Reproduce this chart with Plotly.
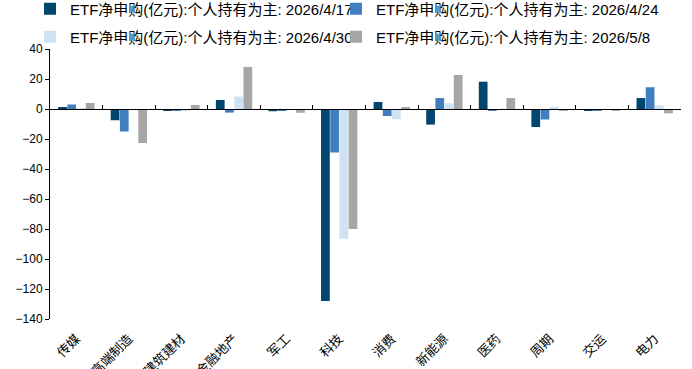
import plotly.graph_objects as go

categories = ["传媒", "高端制造", "建筑建材", "金融地产", "军工", "科技", "消费", "新能源", "医药", "周期", "交运", "电力"]
s_0417 = [1, -7.5, -1, 6, -1.5, -128, 4.7, -10.4, 18.2, -12, -1.2, 7.3]
s_0424 = [3, -15, -1.3, -2.4, -1, -29, -4.7, 7.3, -1.3, -7, -1, 14.5]
s_0430 = [0.5, -0.5, -1, 8.3, -0.5, -86.5, -6.9, 3.8, -0.5, 1.5, -0.5, 2.5]
s_0508 = [4, -22.7, 2.7, 28, -2.5, -80, 0.9, 22.7, 7.3, -1.3, -0.8, -2.9]
series_names = ["ETF净申购(亿元):个人持有为主: 2026/4/17", "ETF净申购(亿元):个人持有为主: 2026/4/24",
                "ETF净申购(亿元):个人持有为主: 2026/4/30", "ETF净申购(亿元):个人持有为主: 2026/5/8"]
colors = ["#00466E", "#3F7FBF", "#CFE2F3", "#A6A6A6"]
legend_ids = ["legend", "legend2", "legend3", "legend4"]
y_ticks = [40, 20, 0, -20, -40, -60, -80, -100, -120, -140]

fig = go.Figure()
for name, vals, c, lg in zip(series_names, [s_0417, s_0424, s_0430, s_0508], colors, legend_ids):
    fig.add_trace(go.Bar(x=categories, y=vals, name=name, legend=lg,
                         marker=dict(color=c, line=dict(width=0))))

# helper trace for the zero-line category axis
fig.add_trace(go.Scatter(x=categories, y=[None]*len(categories), xaxis="x2", showlegend=False,
                         hoverinfo="skip", mode="markers"))

W, H = 692, 369
ymin, ymax = -140, 40
leg_common = dict(orientation="h", xref="container", yref="container", xanchor="left", yanchor="middle",
                  font=dict(size=15, family="Liberation Sans, Noto Sans CJK SC"),
                  itemwidth=30, traceorder="normal", bgcolor="rgba(0,0,0,0)",
                  entrywidth=295, entrywidthmode="pixels")
leg_pos = {"legend": (30, 9), "legend2": (336, 9), "legend3": (30, 37), "legend4": (336, 37)}
legends = {k: dict(x=px / W, y=1 - py / H, **leg_common) for k, (px, py) in leg_pos.items()}

fig.update_layout(
    template="none",
    width=W, height=H,
    margin=dict(l=50, r=11, t=49, b=50, pad=0, autoexpand=False),
    paper_bgcolor="white", plot_bgcolor="white",
    barmode="group", bargap=0.3, bargroupgap=0.05,
    font=dict(family="Liberation Sans, Arial, Noto Sans CJK SC", size=12, color="#000"),
    **legends,
    xaxis=dict(type="category", categoryorder="array", categoryarray=categories,
               showline=False, ticks="outside", ticklen=6, tickcolor="rgba(0,0,0,0)",
               tickangle=-45, automargin=False, showgrid=False, zeroline=False,
               tickfont=dict(size=13, family="Noto Sans CJK SC"), range=[-0.5, 11.5]),
    xaxis2=dict(type="category", categoryorder="array", categoryarray=categories,
                overlaying="x", anchor="free", position=(0 - ymin) / (ymax - ymin),
                showline=True, linecolor="#000", linewidth=1, automargin=False,
                ticks="inside", ticklen=4, tickcolor="#000", tickson="boundaries",
                showticklabels=False, range=[-0.5, 11.5], showgrid=False, zeroline=False),
    yaxis=dict(range=[ymin, ymax], tickvals=y_ticks, showgrid=False, zeroline=False,
               showline=True, linecolor="#000", linewidth=1, ticks="outside", ticklen=4,
               tickcolor="#000", automargin=False, tickfont=dict(size=12)),
)
fig.write_html("out.html", config={"displayModeBar": False},
               post_script="document.body.style.margin='0';")
